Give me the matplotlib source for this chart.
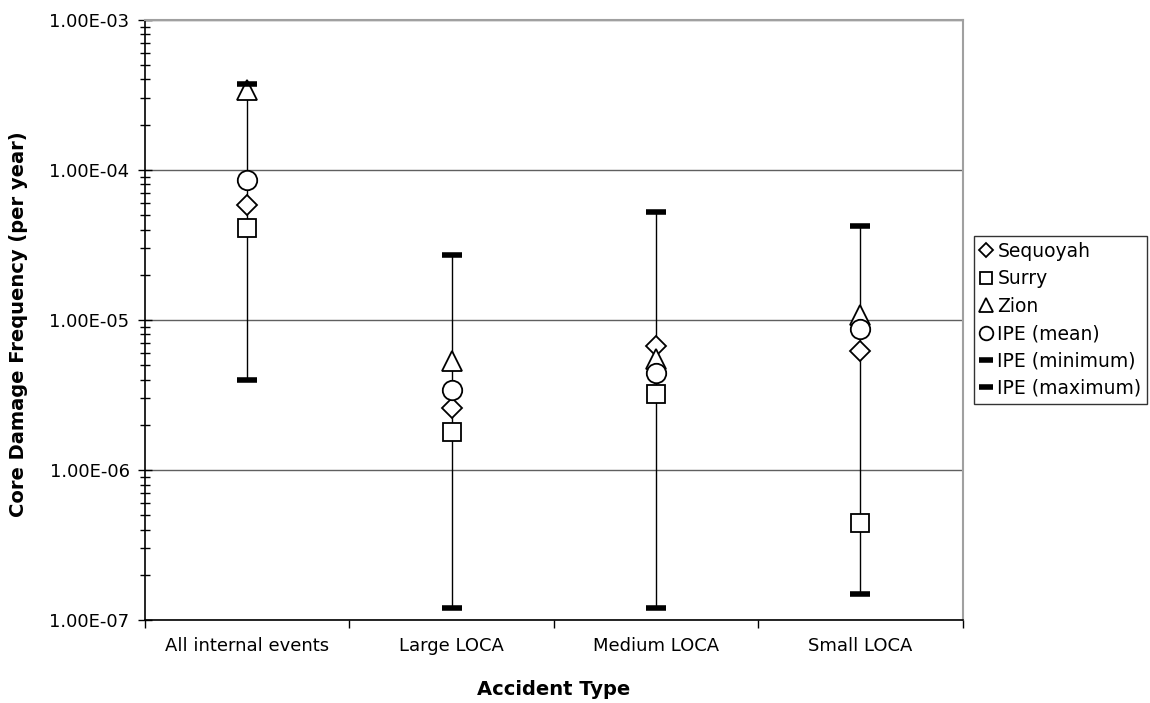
import numpy as np
import matplotlib
matplotlib.use('Agg')
import matplotlib.pyplot as plt
from matplotlib.ticker import LogLocator, FixedLocator, NullFormatter

plt.rcParams['font.family'] = ['DejaVu Sans']

categories = ['All internal events', 'Large LOCA', 'Medium LOCA', 'Small LOCA']
sequoyah = [5.8e-5, 2.6e-6, 6.7e-6, 6.2e-6]
surry = [4.1e-5, 1.8e-6, 3.2e-6, 4.4e-7]
zion = [3.4e-4, 5.3e-6, 5.5e-6, 1.07e-5]
ipe_mean = [8.5e-5, 3.4e-6, 4.4e-6, 8.7e-6]
ipe_min = [4.0e-6, 1.2e-7, 1.2e-7, 1.5e-7]
ipe_max = [3.7e-4, 2.7e-5, 5.2e-5, 4.2e-5]

fig = plt.figure(figsize=(11.5, 7.03), dpi=100)
ax = fig.add_axes([0.126, 0.118, 0.711, 0.854])

x = np.arange(len(categories))

ax.vlines(x, ipe_min, ipe_max, color='black', lw=1, zorder=2)

mk = dict(linestyle='none', markerfacecolor='white', markeredgecolor='black',
          markeredgewidth=1.3, zorder=3)
ax.plot(x, sequoyah, marker='D', markersize=10, label='Sequoyah', **mk)
ax.plot(x, surry, marker='s', markersize=13, label='Surry', **mk)
ax.plot(x, zion, marker='^', markersize=14, label='Zion', **mk)
ax.plot(x, ipe_mean, marker='o', markersize=14, label='IPE (mean)', **mk)
ax.plot(x, ipe_min, marker='_', markersize=14, markeredgewidth=4, color='black',
        linestyle='none', label='IPE (minimum)', zorder=3)
ax.plot(x, ipe_max, marker='_', markersize=14, markeredgewidth=4, color='black',
        linestyle='none', label='IPE (maximum)', zorder=3)

ax.set_yscale('log')
ax.set_ylim(1e-7, 1e-3)
ax.set_xlim(-0.5, len(categories) - 0.5)
ax.yaxis.set_minor_locator(LogLocator(base=10, subs=np.arange(2, 10), numticks=10))
ax.yaxis.set_minor_formatter(NullFormatter())
ax.set_yticks([1e-7, 1e-6, 1e-5, 1e-4, 1e-3])
ax.set_yticklabels(['1.00E-07', '1.00E-06', '1.00E-05', '1.00E-04', '1.00E-03'])
ax.tick_params(axis='y', which='major', direction='inout', length=10, width=1,
               labelsize=13, pad=6)
ax.tick_params(axis='y', which='minor', direction='inout', length=7, width=1)
ax.grid(axis='y', which='major', color='#606060', lw=1)

ax.set_xticks(x)
ax.set_xticklabels(categories, fontsize=13)
ax.xaxis.set_minor_locator(FixedLocator(np.arange(-0.5, len(categories), 1)))
ax.tick_params(axis='x', which='major', length=0, pad=12)
ax.tick_params(axis='x', which='minor', direction='out', length=6, width=1)

ax.spines['top'].set_color('#a0a0a0')
ax.spines['right'].set_color('#a0a0a0')
ax.spines['top'].set_linewidth(1.5)
ax.spines['right'].set_linewidth(1.5)
ax.spines['left'].set_linewidth(1.2)
ax.spines['bottom'].set_linewidth(1.2)

ax.set_xlabel('Accident Type', fontsize=14, fontweight='bold', labelpad=18)
ax.set_ylabel('Core Damage Frequency (per year)', fontsize=14, fontweight='bold')
ax.yaxis.set_label_coords(-0.143, 0.492)

leg = ax.legend(loc='center left', bbox_to_anchor=(1.014, 0.5), frameon=True,
                fancybox=False, edgecolor='black', fontsize=13.5, handlelength=0.7,
                handletextpad=0.25, borderpad=0.3, labelspacing=0.45, markerscale=0.7,
                borderaxespad=0)
leg.get_frame().set_linewidth(1.0)

fig.savefig('out.png', dpi=100)
